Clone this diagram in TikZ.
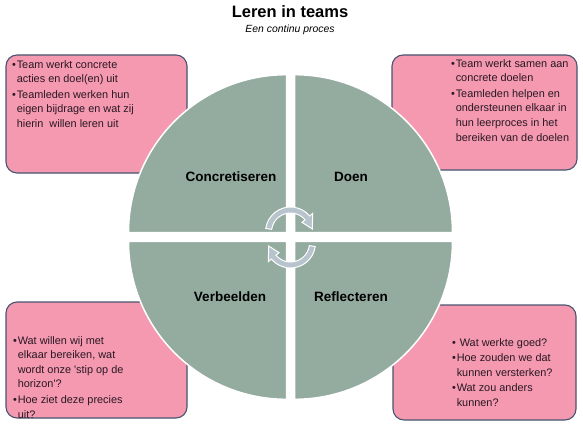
\documentclass[tikz,border=0pt]{standalone}
\usepackage{fontspec}
\setmainfont{Liberation Sans}
\usetikzlibrary{calc}
\definecolor{quadgreen}{RGB}{148,171,160}
\definecolor{notepink}{RGB}{245,153,176}
\definecolor{noteedge}{RGB}{72,84,112}
\definecolor{cyclegrey}{RGB}{184,196,205}
\definecolor{inktext}{RGB}{40,24,36}
\newcommand{\bl}{\makebox[0.42em][l]{\textbullet}}
\newcommand{\ind}{\hspace*{0.42em}}

\begin{document}
\begin{tikzpicture}[x=1pt,y=1pt,
  note/.style={fill=notepink,draw=noteedge,line width=1.1pt,rounded corners=11pt},
  quad/.style={fill=quadgreen,draw=white,line width=1.5pt},
  notetext/.style={anchor=north west,align=left,inner sep=0pt,text=inktext,
    font=\fontsize{10.9}{14.6}\selectfont},
  phase/.style={font=\bfseries\fontsize{13.5}{15}\selectfont},
  cyclearrow/.style={fill=cyclegrey,draw=white,line width=1pt}]
  \useasboundingbox (0,0) rectangle (583,-428);
  % heading
  \node (title) at (290,-12) {\bfseries\fontsize{16.5}{19}\selectfont Leren in teams};
  \node (subtitle) at (290,-30) {\itshape\fontsize{10.4}{12}\selectfont Een continu proces};
  % the four note cards, under the circle
  \draw[note] (6,-55) rectangle (187,-173);
  \draw[note] (392,-55) rectangle (577,-170);
  \draw[note] (6,-302) rectangle (187,-418);
  \draw[note] (393,-305) rectangle (576,-420);
  % circle cut in four quarters
  \coordinate (C) at (290.5,-237);
  \pgfmathsetmacro{\R}{158}
  \filldraw[quad] ($(C)+(-4,4.3)$) -- ++(-\R,0) arc (180:90:\R) -- cycle;
  \filldraw[quad] ($(C)+(4,4.3)$) -- ++(0,\R) arc (90:0:\R) -- cycle;
  \filldraw[quad] ($(C)+(-4,-4.3)$) -- ++(0,-\R) arc (270:180:\R) -- cycle;
  \filldraw[quad] ($(C)+(4,-4.3)$) -- ++(\R,0) arc (0:-90:\R) -- cycle;
  % phases
  \node[phase] (concr) at (231,-177) {Concretiseren};
  \node[phase] (doen) at (351,-177) {Doen};
  \node[phase] (verb) at (230,-297) {Verbeelden};
  \node[phase] (refl) at (351,-297) {Reflecteren};
  % cycle arrows in the middle
  \begin{scope}[shift={(290.5,-232)}]
    \filldraw[cyclearrow] (172:25) arc (172:40:25) -- (40:29) -- (8:22)
      -- (40:15) -- (40:19) arc (40:172:19) -- cycle;
  \end{scope}
  \begin{scope}[shift={(290.5,-243)}]
    \filldraw[cyclearrow] (-8:25) arc (-8:-140:25) -- (-140:29) -- (-172:22)
      -- (-140:15) -- (-140:19) arc (-140:-8:19) -- cycle;
  \end{scope}
  % texts on the cards
  \node[notetext] (txtTL) at (12,-60) {\bl Team werkt concrete\\
    \ind acties en doel(en) uit\\[1pt]
    \bl Teamleden werken hun\\
    \ind eigen bijdrage en wat zij\\
    \ind hierin\ \ willen leren uit};
  \node[notetext] (txtTR) at (451,-59) {\bl Team werkt samen aan\\
    \ind concrete doelen\\[1pt]
    \bl Teamleden helpen en\\
    \ind ondersteunen elkaar in\\
    \ind hun leerproces in het\\
    \ind bereiken van de doelen};
  \node[notetext] (txtBL) at (13,-336) {\bl Wat willen wij met\\
    \ind elkaar bereiken, wat\\
    \ind wordt onze \textquotesingle stip op de\\
    \ind horizon\textquotesingle?\\[1pt]
    \bl Hoe ziet deze precies\\
    \ind uit?};
  \node[notetext] (txtBR) at (452,-338) {\bl\ Wat werkte goed?\\[1pt]
    \bl Hoe zouden we dat\\
    \ind kunnen versterken?\\[1pt]
    \bl Wat zou anders\\
    \ind kunnen?};
\end{tikzpicture}
\end{document}
